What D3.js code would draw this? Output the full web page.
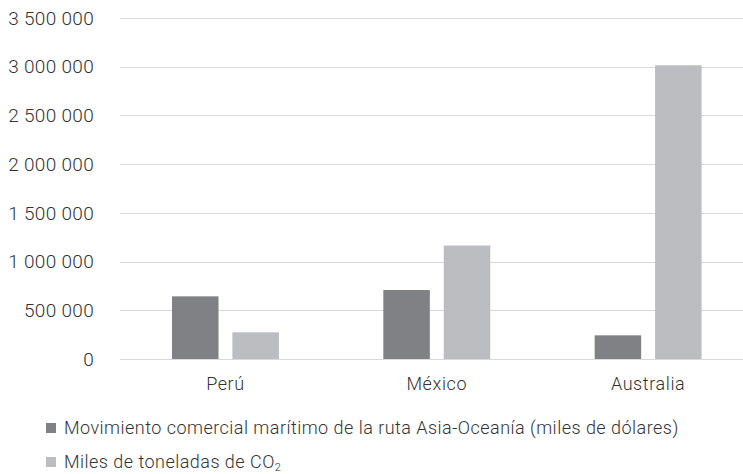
<!DOCTYPE html>
<html>
<head>
<meta charset="utf-8">
<script src="https://cdn.jsdelivr.net/npm/d3@7/dist/d3.min.js"></script>
<style>
  html, body { margin: 0; padding: 0; background: #fff; }
  svg { display: block; font-family: Roboto, "Noto Sans", sans-serif; font-weight: 300; }
</style>
</head>
<body>
<svg id="chart" width="743" height="474"></svg>
<script>
// Countries on the category axis
const categories = ["Perú", "México", "Australia"];
// Series: maritime trade (thousand USD) and CO2 (thousand tonnes)
const seriesNames = [
  "Movimiento comercial marítimo de la ruta Asia-Oceanía (miles de dólares)",
  "Miles de toneladas de CO"
];
const tradeValues = [643000, 708000, 243000];
const co2Values = [274000, 1165000, 3015000];
const yTicks = [0, 500000, 1000000, 1500000, 2000000, 2500000, 3000000, 3500000];

const colors = ["#808184", "#bcbdc0"];
const textColor = "#333333";

const svg = d3.select("#chart");
const plotLeft = 120, plotRight = 754, plotTop = 18, plotBottom = 359;

const y = d3.scaleLinear().domain([0, 3500000]).range([plotBottom, plotTop]);
const x0 = d3.scaleBand().domain(categories).range([plotLeft, plotRight]).padding(0);
const x1 = d3.scaleBand().domain([0, 1])
  .range([x0.bandwidth() * 0.246, x0.bandwidth() * 0.752]).paddingInner(0.23);

const fmt = d3.formatLocale({ decimal: ",", thousands: "\u00a0", grouping: [3], currency: ["", ""] }).format(",d");

// Gridlines
svg.append("g").selectAll("line").data(yTicks).join("line")
  .attr("x1", plotLeft).attr("x2", 743)
  .attr("y1", d => Math.round(y(d)) + 0.5).attr("y2", d => Math.round(y(d)) + 0.5)
  .attr("stroke", "#d9d9d9").attr("stroke-width", 1.2);

// Y tick labels
svg.append("g").selectAll("text").data(yTicks).join("text")
  .attr("x", 94).attr("y", d => y(d)).attr("dy", "0.35em")
  .attr("text-anchor", "end").attr("font-size", 19).attr("fill", textColor)
  .attr("letter-spacing", 0.3)
  .text(d => fmt(d));

// Bars
const rows = categories.map((c, i) => ({ cat: c, vals: [tradeValues[i], co2Values[i]] }));
const groups = svg.append("g").selectAll("g").data(rows).join("g")
  .attr("transform", d => `translate(${x0(d.cat)},0)`);
groups.selectAll("rect").data(d => d.vals.map((v, k) => ({ v, k }))).join("rect")
  .attr("x", d => x1(d.k)).attr("width", x1.bandwidth())
  .attr("y", d => y(d.v)).attr("height", d => plotBottom - y(d.v))
  .attr("fill", d => colors[d.k]);

// Category labels
svg.append("g").selectAll("text").data(categories).join("text")
  .attr("x", d => x0(d) + x0.bandwidth() * 0.499).attr("y", 390)
  .attr("text-anchor", "middle").attr("font-size", 18).attr("fill", textColor)
  .attr("letter-spacing", 0.6)
  .text(d => d);

// Legend
const legend = svg.append("g");
const legendY = [434, 468];
seriesNames.forEach((name, i) => {
  legend.append("rect").attr("x", 46).attr("y", legendY[i] - 11).attr("width", 10).attr("height", 10)
    .attr("fill", colors[i]);
  const t = legend.append("text").attr("x", 64).attr("y", legendY[i])
    .attr("font-size", 18).attr("fill", textColor).attr("letter-spacing", 0.47).text(name);
  if (i === 1) {
    t.append("tspan").attr("font-size", 11).attr("dy", 3).text("2");
  }
});
</script>
</body>
</html>
